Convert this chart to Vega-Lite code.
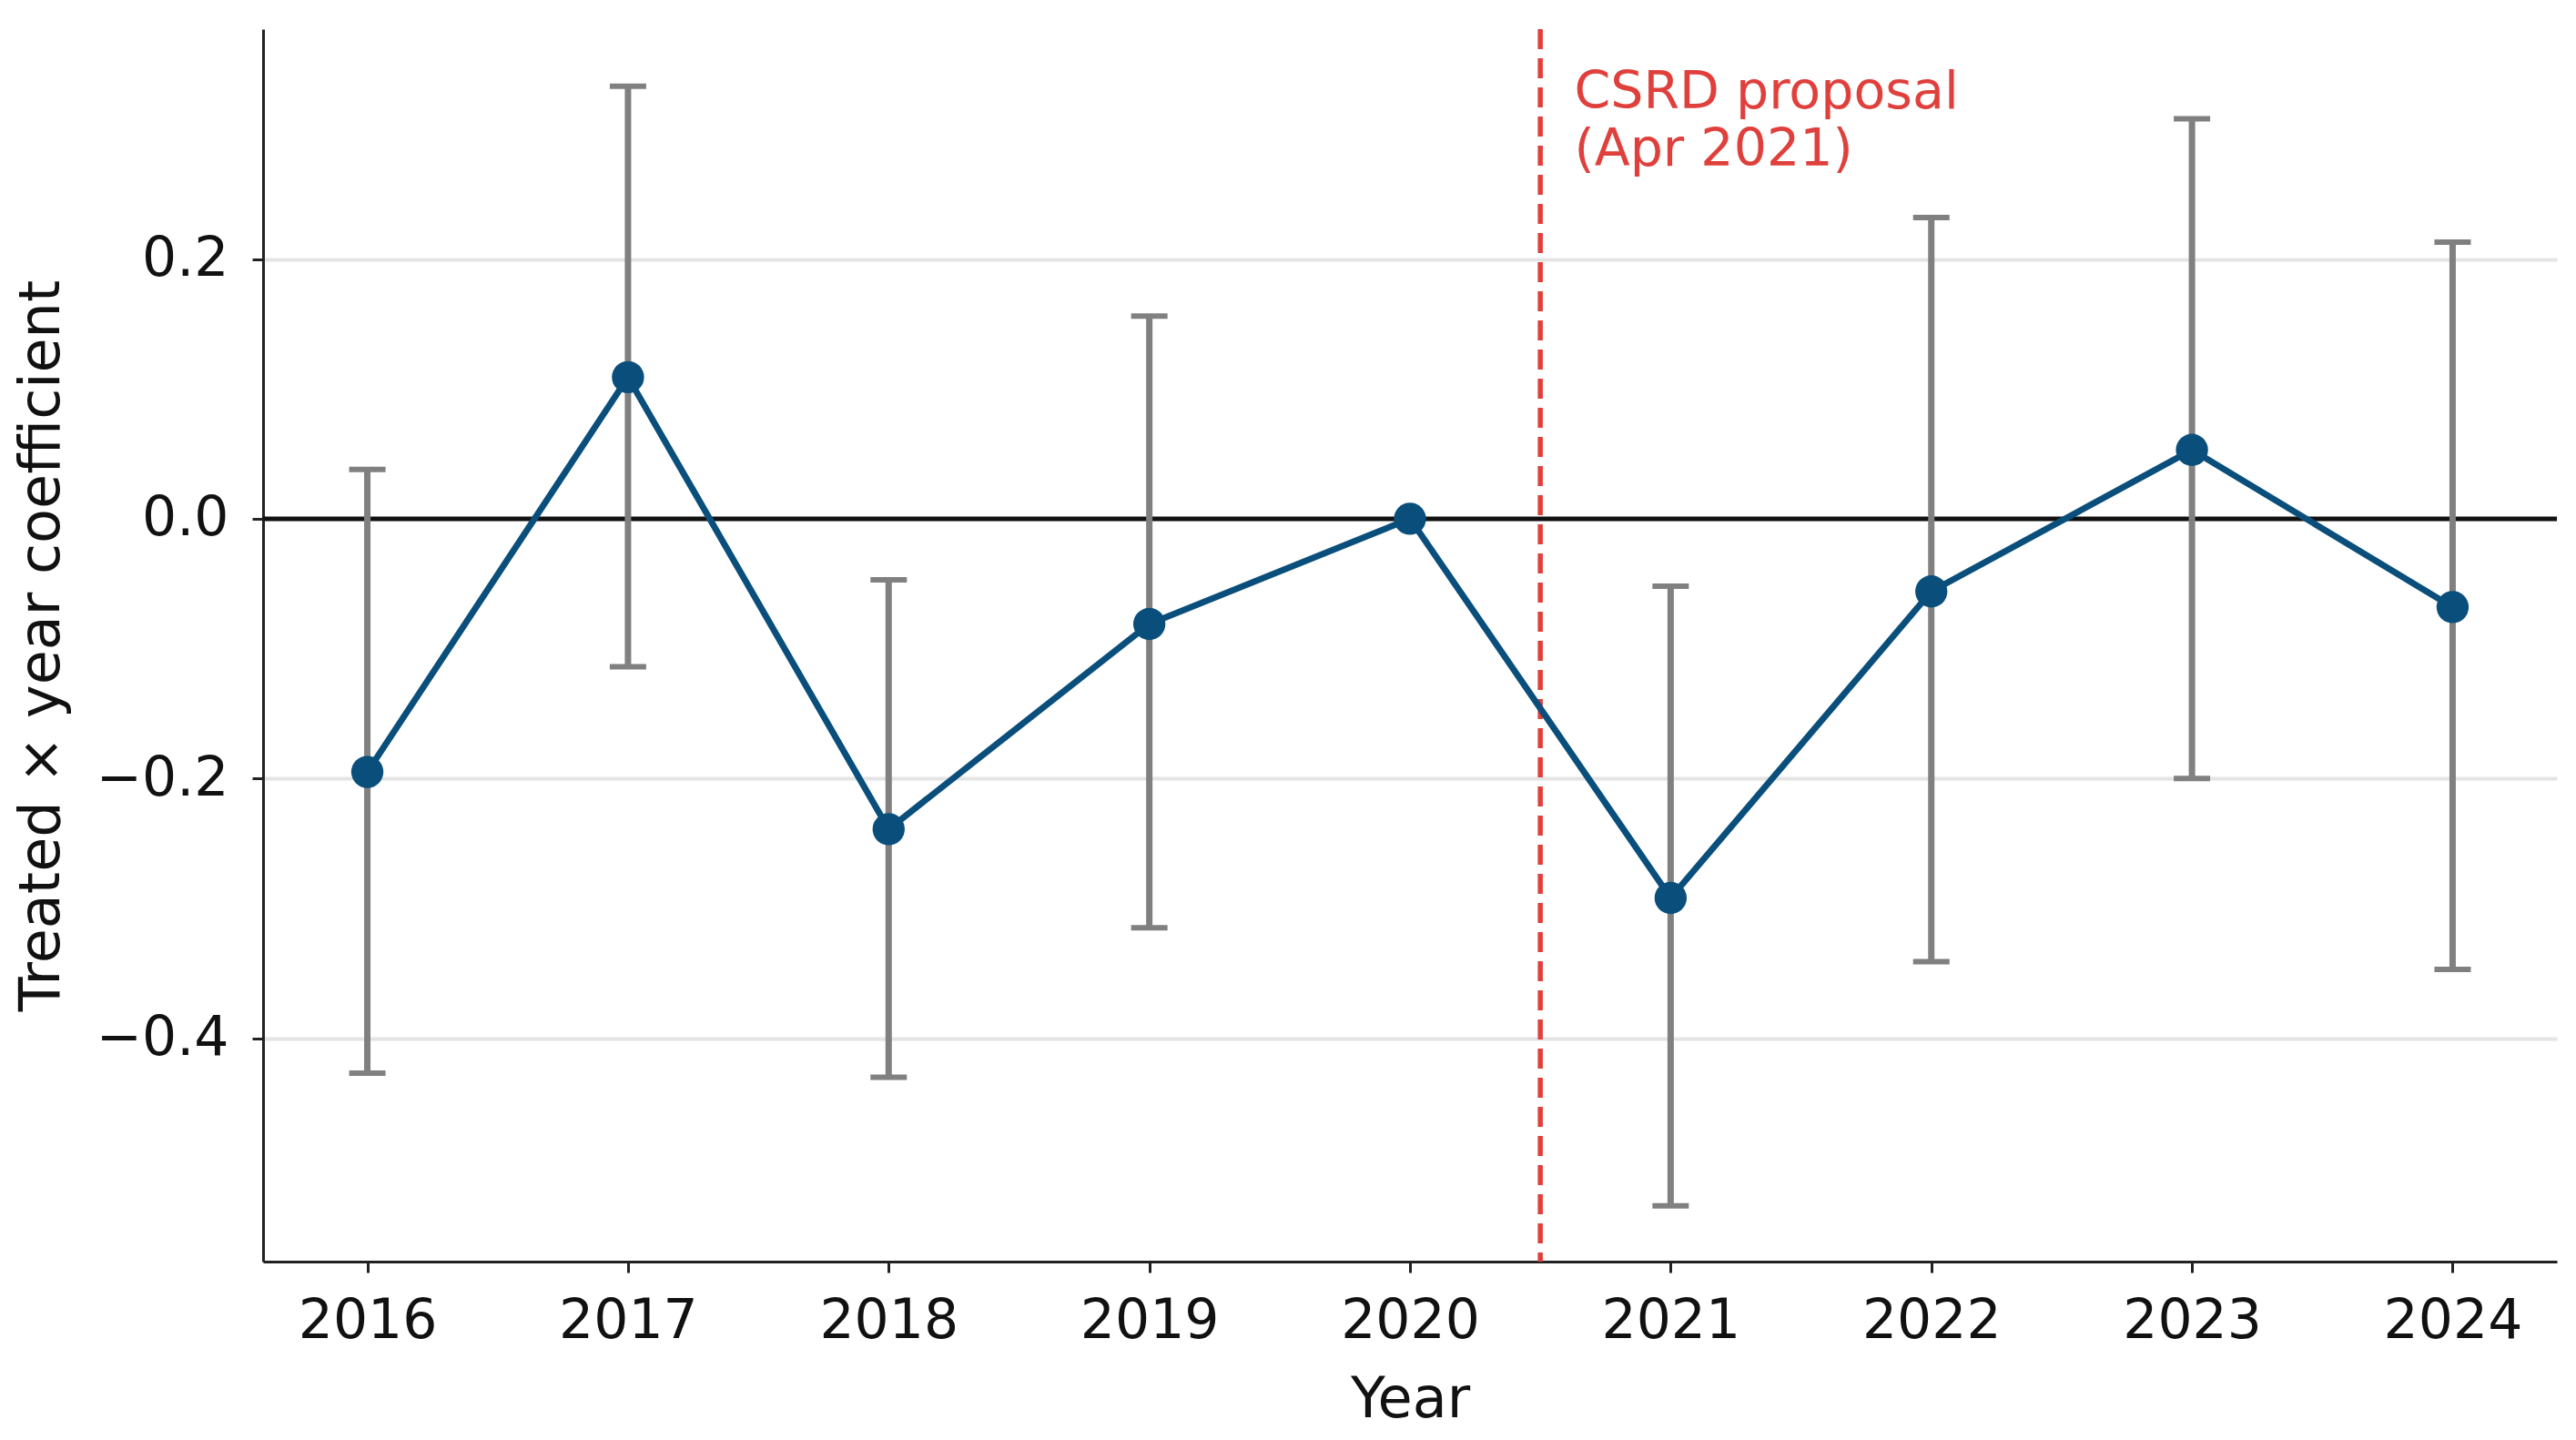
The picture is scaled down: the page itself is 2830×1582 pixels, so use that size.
{
  "$schema": "https://vega.github.io/schema/vega-lite/v6.json",
  "width": 2520,
  "height": 1354,
  "autosize": {"type": "none"},
  "padding": {"left": 289, "top": 32, "right": 21, "bottom": 196},
  "background": "white",
  "datasets": {
    "coefs": [
      {"year": 2016, "coef": -0.195, "lo": -0.427, "hi": 0.038},
      {"year": 2017, "coef": 0.109, "lo": -0.114, "hi": 0.333},
      {"year": 2018, "coef": -0.239, "lo": -0.430, "hi": -0.047},
      {"year": 2019, "coef": -0.081, "lo": -0.315, "hi": 0.156},
      {"year": 2020, "coef": 0.0, "lo": null, "hi": null},
      {"year": 2021, "coef": -0.292, "lo": -0.529, "hi": -0.052},
      {"year": 2022, "coef": -0.056, "lo": -0.341, "hi": 0.232},
      {"year": 2023, "coef": 0.053, "lo": -0.200, "hi": 0.308},
      {"year": 2024, "coef": -0.068, "lo": -0.347, "hi": 0.213}
    ],
    "event": [
      {"year": 2020.5, "label_x": 2020.63, "label_y": 0.316, "label": "CSRD proposal\n(Apr 2021)"}
    ],
    "zero": [{"coef": 0}]
  },
  "layer": [
    {
      "data": {"name": "zero"},
      "mark": {"type": "rule", "color": "#111111", "strokeWidth": 5},
      "encoding": {"y": {"field": "coef", "type": "quantitative"}}
    },
    {
      "data": {"name": "coefs"},
      "transform": [{"filter": "datum.lo != null"}],
      "mark": {"type": "rule", "color": "#808080", "strokeWidth": 7},
      "encoding": {
        "x": {"field": "year", "type": "quantitative"},
        "y": {"field": "lo", "type": "quantitative"},
        "y2": {"field": "hi"}
      }
    },
    {
      "data": {"name": "coefs"},
      "transform": [{"filter": "datum.lo != null"}],
      "mark": {"type": "tick", "orient": "horizontal", "color": "#808080", "thickness": 6, "size": 40, "opacity": 1},
      "encoding": {
        "x": {"field": "year", "type": "quantitative"},
        "y": {"field": "lo", "type": "quantitative"}
      }
    },
    {
      "data": {"name": "coefs"},
      "transform": [{"filter": "datum.hi != null"}],
      "mark": {"type": "tick", "orient": "horizontal", "color": "#808080", "thickness": 6, "size": 40, "opacity": 1},
      "encoding": {
        "x": {"field": "year", "type": "quantitative"},
        "y": {"field": "hi", "type": "quantitative"}
      }
    },
    {
      "data": {"name": "event"},
      "mark": {"type": "rule", "color": "#e0403c", "strokeWidth": 5.5, "strokeDash": [22, 10]},
      "encoding": {"x": {"field": "year", "type": "quantitative"}}
    },
    {
      "data": {"name": "event"},
      "mark": {
        "type": "text",
        "color": "#e0403c",
        "font": "DejaVu Sans",
        "fontSize": 57,
        "align": "left",
        "baseline": "alphabetic",
        "lineHeight": 63,
        "lineBreak": "\n"
      },
      "encoding": {
        "x": {"field": "label_x", "type": "quantitative"},
        "y": {"field": "label_y", "type": "quantitative"},
        "text": {"field": "label"}
      }
    },
    {
      "data": {"name": "coefs"},
      "mark": {"type": "line", "color": "#0a4f7c", "strokeWidth": 7},
      "encoding": {
        "x": {"field": "year", "type": "quantitative"},
        "y": {"field": "coef", "type": "quantitative"}
      }
    },
    {
      "data": {"name": "coefs"},
      "mark": {"type": "point", "filled": true, "color": "#0a4f7c", "size": 1250, "opacity": 1},
      "encoding": {
        "x": {
          "field": "year",
          "type": "quantitative",
          "title": "Year",
          "scale": {"domain": [2015.6, 2024.4], "nice": false, "zero": false},
          "axis": {
            "values": [2016, 2017, 2018, 2019, 2020, 2021, 2022, 2023, 2024],
            "format": "d",
            "grid": false,
            "labelPadding": 24,
            "titlePadding": 26
          }
        },
        "y": {
          "field": "coef",
          "type": "quantitative",
          "title": "Treated × year coefficient",
          "scale": {"domain": [-0.572, 0.377], "nice": false, "zero": false},
          "axis": {
            "values": [-0.4, -0.2, 0, 0.2],
            "format": ".1f",
            "grid": true,
            "labelPadding": 26,
            "titlePadding": 28
          }
        }
      }
    }
  ],
  "config": {
    "view": {"stroke": null},
    "font": "DejaVu Sans",
    "axis": {
      "labelFont": "DejaVu Sans",
      "titleFont": "DejaVu Sans",
      "labelFontSize": 60,
      "titleFontSize": 62,
      "titleFontWeight": "normal",
      "labelColor": "#111111",
      "titleColor": "#111111",
      "domainColor": "#222222",
      "domainWidth": 3,
      "tickColor": "#222222",
      "tickWidth": 3,
      "tickSize": 12,
      "gridColor": "#e4e4e4",
      "gridWidth": 4,
      "labelPadding": 10
    }
  }
}
